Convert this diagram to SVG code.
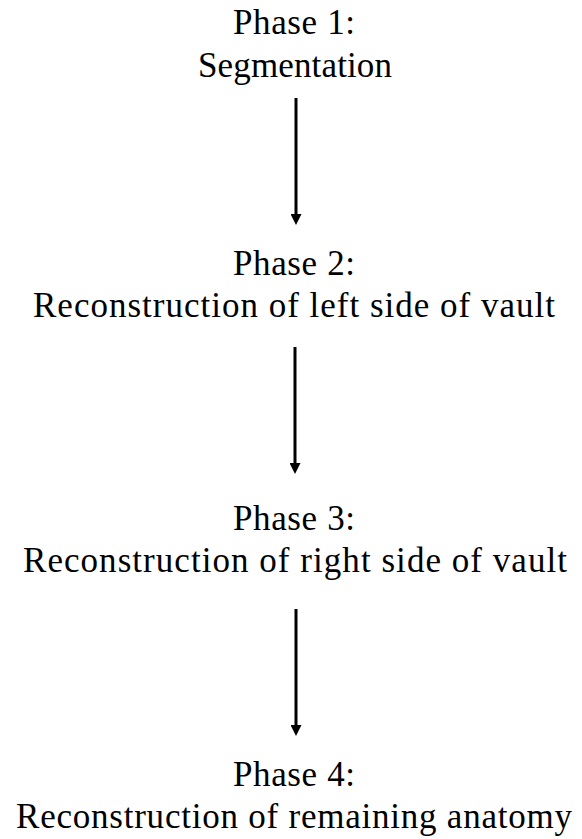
<svg xmlns="http://www.w3.org/2000/svg" width="582" height="839" viewBox="0 0 582 839">
<style>
text{font-family:"Liberation Serif","Times New Roman",serif;font-size:35px;fill:#000;text-anchor:middle}
.c line{stroke:#000;stroke-width:3}
</style>
<defs>
<marker id="ah" markerWidth="11" markerHeight="11" refX="1" refY="5.5" orient="auto" markerUnits="userSpaceOnUse" viewBox="0 0 11 11">
<path d="M0,0 L11,5.5 L0,11 z" fill="#000"/>
</marker>
</defs>
<rect width="582" height="839" fill="#fff"/>
<g id="n1"><text x="294" y="34" textLength="122" lengthAdjust="spacing">Phase 1:</text><text x="295" y="77" textLength="194" lengthAdjust="spacing">Segmentation</text></g>
<g id="n2"><text x="294" y="275" textLength="122" lengthAdjust="spacing">Phase 2:</text><text x="294" y="317" textLength="522" lengthAdjust="spacing">Reconstruction of left side of vault</text></g>
<g id="n3"><text x="294" y="530" textLength="122" lengthAdjust="spacing">Phase 3:</text><text x="295" y="572" textLength="544" lengthAdjust="spacing">Reconstruction of right side of vault</text></g>
<g id="n4"><text x="294" y="786" textLength="122" lengthAdjust="spacing">Phase 4:</text><text x="294" y="828" textLength="556" lengthAdjust="spacing">Reconstruction of remaining anatomy</text></g>
<g class="c">
<line x1="296" y1="98" x2="296" y2="215" marker-end="url(#ah)"/>
<line x1="295" y1="347" x2="295" y2="464" marker-end="url(#ah)"/>
<line x1="296" y1="609" x2="296" y2="726" marker-end="url(#ah)"/>
</g>
</svg>
